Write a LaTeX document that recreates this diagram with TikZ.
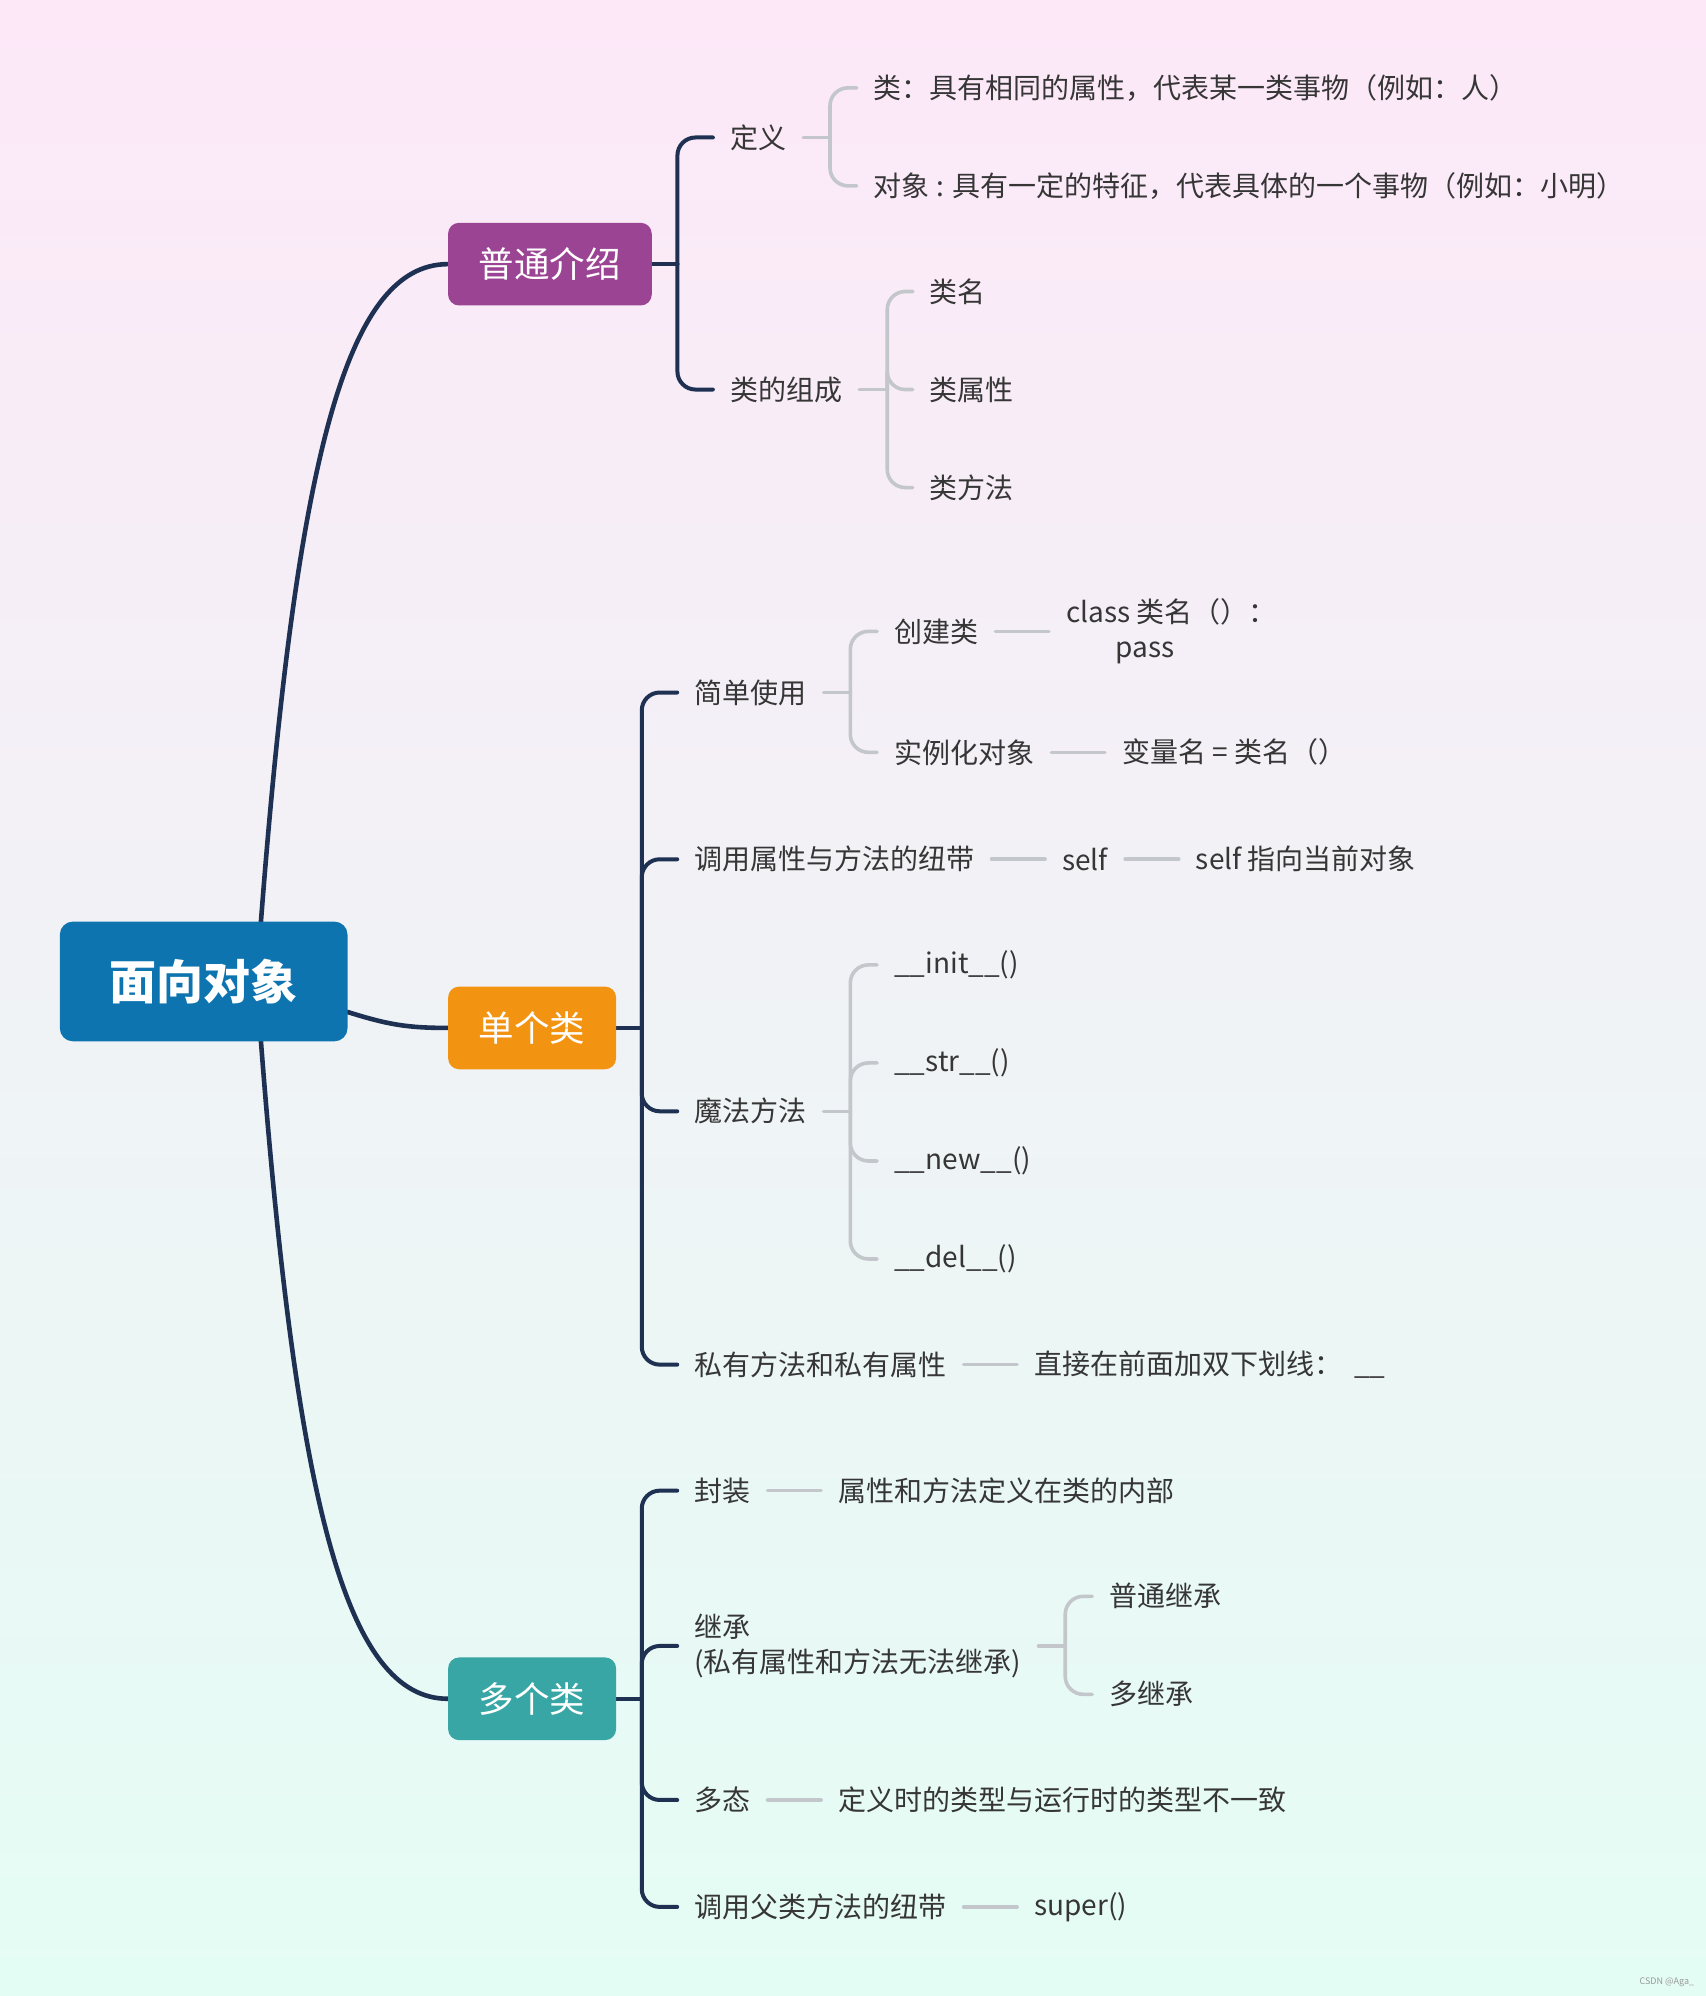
\documentclass[tikz,border=0pt]{standalone}
\usepackage{fontspec}
\newfontfamily\cjk{Noto Sans CJK SC}
\usetikzlibrary{calc,backgrounds}
\definecolor{navy}{HTML}{1E3152}
\definecolor{grayc}{HTML}{C3C7CB}
\definecolor{txtc}{HTML}{363636}
\definecolor{rootc}{HTML}{0D74AF}
\definecolor{purp}{HTML}{9B4493}
\definecolor{oran}{HTML}{F39312}
\definecolor{tealc}{HTML}{37A6A4}
\definecolor{bgtop}{HTML}{FDE8F8}
\definecolor{bgbot}{HTML}{E4FDF4}
\begin{document}
\begin{tikzpicture}[x=1.2731pt,y=-1.2731pt,
  txt/.style={anchor=west, inner xsep=17pt, inner ysep=2pt, text=txtc, font=\cjk\fontsize{28}{35}\selectfont},
  topic/.style={rounded corners=11pt, text=white, inner sep=0pt, minimum height=82.7pt, font=\cjk\fontsize{35.5}{40}\selectfont},
  nv/.style={draw=navy, line width=4pt, line cap=round, rounded corners=18pt},
  gr/.style={draw=grayc, line width=3.6pt, line cap=round, rounded corners=18pt},
]
\useasboundingbox (0,0) rectangle (1340,1568);

% topics
\node[topic, fill=rootc, rounded corners=13pt, minimum width=287.7pt, minimum height=119.7pt, font=\cjk\bfseries\fontsize{47}{52}\selectfont] (root) at (160,771) {面向对象};
\node[topic, fill=purp, minimum width=203.7pt] (pt) at (432,207.5) {普通介绍};
\node[topic, fill=oran, minimum width=168pt] (dg) at (418,807.5) {单个类};
\node[topic, fill=tealc, minimum width=168pt] (dgl) at (418,1334.5) {多个类};

% 普通介绍
\node[txt] (dy) at (560,108) {定义};
\node[txt] (zc) at (560,306) {类的组成};
\node[txt] (lei) at (673,69) {类：具有相同的属性，代表某一类事物（例如：人）};
\node[txt] (dx) at (673,146) {对象 : 具有一定的特征，代表具体的一个事物（例如：小明）};
\node[txt] (lm) at (717,229) {类名};
\node[txt] (lsx) at (717,306) {类属性};
\node[txt] (lff) at (717,383) {类方法};

% 单个类
\node[txt] (jd) at (532,544) {简单使用};
\node[txt] (nd) at (532,675) {调用属性与方法的纽带};
\node[txt] (mf) at (532,873) {魔法方法};
\node[txt] (sy) at (532,1072) {私有方法和私有属性};
\node[txt] (cj) at (689,496) {创建类};
\node[txt] (sl) at (689,591) {实例化对象};
\node[txt, align=center] (cls) at (824,496) {class 类名（）：\\pass\hspace*{52pt}};
\node[txt] (bl) at (868,591) {变量名 = 类名（）};
\node[txt] (self) at (821,675) {self};
\node[txt] (selfd) at (926,675) {self 指向当前对象};
\node[txt] (init) at (689,758) {\_\_init\_\_()};
\node[txt] (str) at (689,835) {\_\_str\_\_()};
\node[txt] (new) at (689,912) {\_\_new\_\_()};
\node[txt] (del) at (689,989) {\_\_del\_\_()};
\node[txt] (zj) at (799,1072) {直接在前面加双下划线：\hspace{12pt}\_\_};

% 多个类
\node[txt] (fz) at (532,1171) {封装};
\node[txt, align=left] (jc) at (532,1293) {继承\\(私有属性和方法无法继承)};
\node[txt] (dt) at (532,1414) {多态};
\node[txt] (fl) at (532,1498) {调用父类方法的纽带};
\node[txt] (fzd) at (645,1171) {属性和方法定义在类的内部};
\node[txt] (ptj) at (858,1254) {普通继承};
\node[txt] (djc) at (858,1331) {多继承};
\node[txt] (dtd) at (645,1414) {定义时的类型与运行时的类型不一致};
\node[txt] (sup) at (799,1498) {super()};

\node[inner sep=0pt, anchor=east, text=black!40, font=\cjk\fontsize{9}{10}\selectfont] (wm) at (1331,1557) {CSDN @Aga\_};

\begin{scope}[on background layer]
\shade[top color=bgtop, bottom color=bgbot] (0,0) rectangle (1340,1568);
% main curves
\draw[nv, line width=4.6pt] ($(root.north)+(45,0)$) .. controls (233,360) and (272,207.5) .. (pt.west);
\draw[nv, line width=4.6pt] ($(root.south)+(45,0)$) .. controls (233,1182) and (272,1334.5) .. (dgl.west);
\draw[nv, line width=4.6pt] ($(root.east)+(0,24)$) .. controls (305,805) and (320,807.5) .. (dg.west);
% 普通介绍 bracket
\draw[nv] (pt.east) -- ++(20,0);
\foreach \c in {dy,zc} \draw[nv] ($(pt.east)+(20,0)$) |- (\c.west);
\draw[gr] (dy.east) -- ++(21,0);
\foreach \c in {lei,dx} \draw[gr] ($(dy.east)+(21,0)$) |- (\c.west);
\draw[gr] (zc.east) -- ++(22,0);
\foreach \c in {lm,lsx,lff} \draw[gr] ($(zc.east)+(22,0)$) |- (\c.west);
% 单个类
\draw[nv] (dg.east) -- ++(20,0);
\foreach \c in {jd,nd,mf,sy} \draw[nv] ($(dg.east)+(20,0)$) |- (\c.west);
\draw[gr] (jd.east) -- ++(21,0);
\foreach \c in {cj,sl} \draw[gr] ($(jd.east)+(21,0)$) |- (\c.west);
\draw[gr] (cj.east) -- (cls.west);
\draw[gr] (sl.east) -- (bl.west);
\draw[gr] (nd.east) -- (self.west);
\draw[gr] (self.east) -- (selfd.west);
\draw[gr] (mf.east) -- ++(21,0);
\foreach \c in {init,str,new,del} \draw[gr] ($(mf.east)+(21,0)$) |- (\c.west);
\draw[gr] (sy.east) -- (zj.west);
% 多个类
\draw[nv] (dgl.east) -- ++(20,0);
\foreach \c in {fz,jc,dt,fl} \draw[nv] ($(dgl.east)+(20,0)$) |- (\c.west);
\draw[gr] (fz.east) -- (fzd.west);
\draw[gr] (jc.east) -- ++(21,0);
\foreach \c in {ptj,djc} \draw[gr] ($(jc.east)+(21,0)$) |- (\c.west);
\draw[gr] (dt.east) -- (dtd.west);
\draw[gr] (fl.east) -- (sup.west);
\end{scope}
\end{tikzpicture}
\end{document}
